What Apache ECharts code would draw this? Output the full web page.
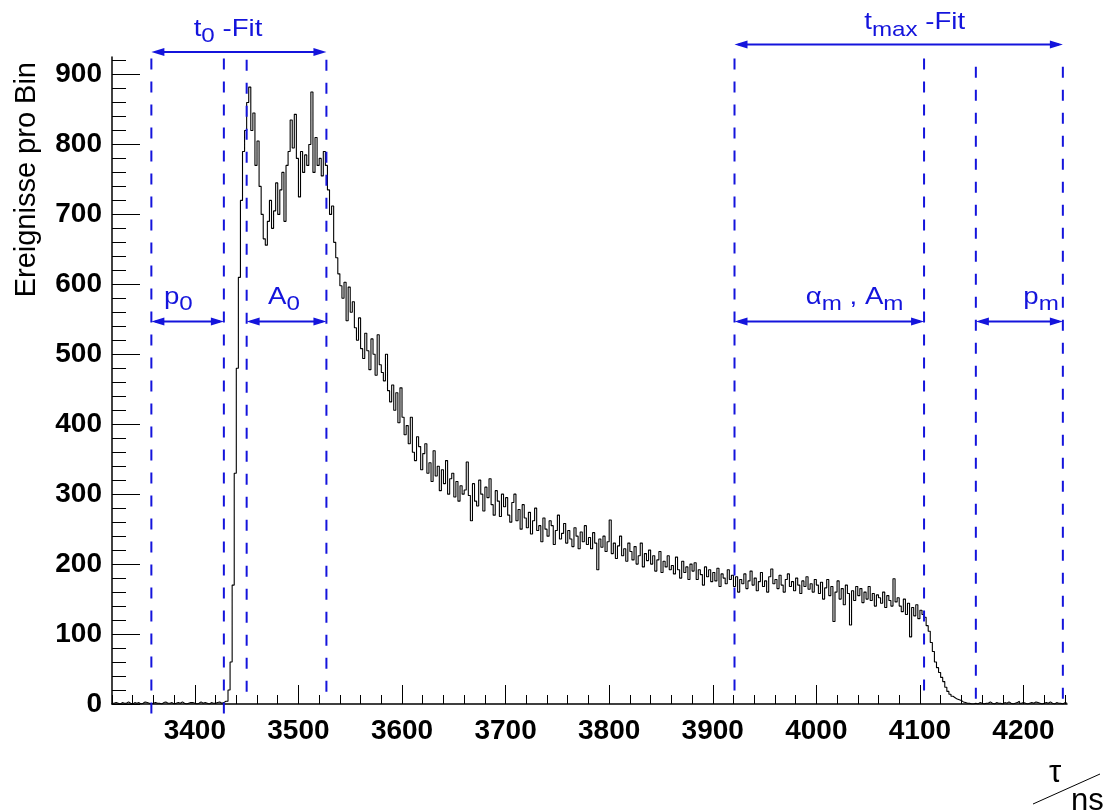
<!DOCTYPE html>
<html>
<head>
<meta charset="utf-8">
<script src="https://cdn.jsdelivr.net/npm/echarts@6/dist/echarts.min.js"></script>
<style>
html,body{margin:0;padding:0;background:#ffffff;}
#chart{width:1108px;height:812px;}
</style>
</head>
<body>
<div id="chart"></div>
<script>
// ---------------- data ----------------
const BIN_START = 3320;   // ns, low edge of first bin
const BIN_WIDTH = 2;      // ns
const X_MIN = 3320, X_MAX = 4242;
const Y_MIN = 0, Y_MAX = 925;

// counts per bin (segments in time order)
const countsBaseline = [ // 3320 - 3428
  1,2,1,0,2,1,1,3,1,0, 2,1,2,0,1,3,2,1,0,1, 2,1,1,0,2,3,1,1,2,0,
  1,2,1,3,1,0,1,2,2,1, 0,1,3,1,2,1,0,2,1,1, 2,3,1,2,4];
const countsRise = [ // 3430 - 3448
  4,20,60,170,330,480,610,720,790,820];
const countsPlateau = [ // 3450 - 3526
  860,882,820,845,770,805,740,700,665,656, 690,720,680,705,745,700,735,760,690,770,
  790,835,795,843,780,725,790,760,785,770, 800,875,760,810,770,780,755,790,770];
const countsDecay = [ // 3528 - 3658
  735,700,712,660,638,615,598,580,603,548, 596,560,575,538,520,552,508,494,530,505,
  478,522,500,470,528,485,474,462,500,448, 432,456,420,445,402,452,410,385,398,372,
  410,360,348,382,368,335,358,372,330,345, 318,362,326,340,305,335,315,348,300,322,
  330,296,318,290,312,300];
const countsSlope = [ // 3660 - 3918
  306,346,298,262,315,290,283,320,300,276, 310,295,322,285,270,305,290,268,300,282,
  295,270,260,288,300,262,278,250,285,266, 252,274,243,262,280,248,255,232,266,250,
  240,262,255,228,248,270,236,244,258,230, 248,236,225,252,240,222,246,232,255,228,
  238,222,245,230,192,236,224,240,218,232, 263,215,230,208,226,240,212,222,204,230,
  218,206,225,200,212,230,196,215,205,220, 200,212,190,206,218,188,204,196,212,192,
  198,186,210,192,180,204,188,196,178,200, 190,202,178,192,185,170,196,182,192,175,
  188,176,194,168,186,180,172,192,178,184];
const countsFlat = [ // 3920 - 4108
  168,182,160,178,172,186,165,176,190,170, 180,162,175,188,168,176,160,182,193,172,
  178,165,184,170,160,178,186,168,175,162, 180,170,158,176,168,182,164,172,160,178,
  170,158,174,150,166,178,155,168,118,160, 176,150,165,142,170,158,113,162,148,168,
  155,165,145,160,150,168,148,158,140,156, 152,144,160,138,155,148,140,179,146,152,
  140,132,150,128,144,96,138,126,142,122, 134,128,124,112,104];
const countsFall = [ // 4110 - 4148
  88,75,60,52,45,38,32,24,18,14, 11,9,7,6,5,3,2,1,1,0];
const countsTail = [ // 4150 - 4240
  0,1,0,2,1,0,1,1,3,1, 0,2,1,1,0,2,1,3,1,0, 1,2,4,1,2,1,0,1,2,1,
  3,2,1,0,1,2,1,3,1,0, 2,1,1,0,2,1];

const xTickLabels = [3400,3500,3600,3700,3800,3900,4000,4100,4200];
const yTickLabels = [0,100,200,300,400,500,600,700,800,900];

// fit-range boundaries (ns)
const fitBounds = [3358, 3428, 3450, 3527, 3921, 4104, 4154, 4238];

// ---------------- build ----------------
const counts = [].concat(countsBaseline, countsRise, countsPlateau, countsDecay,
                         countsSlope, countsFlat, countsFall, countsTail);
const histData = counts.map((v, i) => [BIN_START + i * BIN_WIDTH, v]);
histData.push([BIN_START + counts.length * BIN_WIDTH, counts[counts.length - 1]]);

const xMinor = []; for (let v = 3320; v <= 4240; v += 20) xMinor.push(v);
const yMinor = []; for (let v = 0; v <= 920; v += 20) yMinor.push(v);

const BLUE = '#1414dc';
const FONT = 'Liberation Sans, Arial, Helvetica, sans-serif';

const chart = echarts.init(document.getElementById('chart'), null, {renderer: 'canvas'});
const baseX = {
  type: 'value', min: X_MIN, max: X_MAX, position: 'bottom',
  splitLine: {show: false}
};
const baseY = {
  type: 'value', min: Y_MIN, max: Y_MAX, position: 'left',
  splitLine: {show: false}
};
chart.setOption({
  animation: false,
  backgroundColor: '#ffffff',
  grid: {left: 112, right: 41, top: 57, bottom: 108, containLabel: false},
  xAxis: [
    Object.assign({}, baseX, {
      axisLine: {show: true, onZero: false, lineStyle: {color: '#000', width: 1.5}},
      axisTick: {show: true, inside: true, length: 19, customValues: xTickLabels, lineStyle: {color: '#000', width: 1}},
      axisLabel: {show: true, customValues: xTickLabels, formatter: v => String(v),
        fontSize: 28, fontWeight: 'bold', fontFamily: FONT, color: '#000', margin: 13}
    }),
    Object.assign({}, baseX, {
      axisLine: {show: false, onZero: false},
      axisTick: {show: true, inside: true, length: 9, customValues: xMinor, lineStyle: {color: '#000', width: 1}},
      axisLabel: {show: false}
    })
  ],
  yAxis: [
    Object.assign({}, baseY, {
      axisLine: {show: true, onZero: false, lineStyle: {color: '#000', width: 1.5}},
      axisTick: {show: true, inside: true, length: 28, customValues: yTickLabels, lineStyle: {color: '#000', width: 1}},
      axisLabel: {show: true, customValues: yTickLabels, formatter: v => String(v),
        fontSize: 28, fontWeight: 'bold', fontFamily: FONT, color: '#000', margin: 10}
    }),
    Object.assign({}, baseY, {
      axisLine: {show: false, onZero: false},
      axisTick: {show: true, inside: true, length: 14, customValues: yMinor, lineStyle: {color: '#000', width: 1}},
      axisLabel: {show: false}
    })
  ],
  series: [{
    type: 'line', xAxisIndex: 0, yAxisIndex: 0,
    data: histData, step: 'end', showSymbol: false, symbol: 'none',
    lineStyle: {color: '#000', width: 1.1}, silent: true, clip: true
  }]
});

// ---------------- annotations (placed through the axes' scales) ----------------
const P = (x, y) => chart.convertToPixel({seriesIndex: 0}, [x, y]);
const graphics = [];

// dashed boundaries: [x, top value, bottom value]
const dashSpec = [
  [fitBounds[0], 923, -26], [fitBounds[1], 923, -15], [fitBounds[2], 921, 3], [fitBounds[3], 921, 3],
  [fitBounds[4], 923, 3], [fitBounds[5], 923, 3], [fitBounds[6], 911, -5], [fitBounds[7], 911, -5]
];
dashSpec.forEach(d => {
  const a = P(d[0], d[1]), b = P(d[0], d[2]);
  graphics.push({type: 'line', silent: true, z: 50,
    shape: {x1: a[0], y1: a[1], x2: b[0], y2: b[1]},
    style: {stroke: BLUE, lineWidth: 2, lineDash: [11, 12]}});
});

function arrow(x0, x1, yv) {
  const a = P(x0, yv), b = P(x1, yv);
  const y = a[1], L = 13, H = 4;
  graphics.push({type: 'line', silent: true, z: 51,
    shape: {x1: a[0] + 4, y1: y, x2: b[0] - 4, y2: y},
    style: {stroke: BLUE, lineWidth: 2}});
  graphics.push({type: 'polygon', silent: true, z: 51,
    shape: {points: [[a[0], y], [a[0] + L, y - H], [a[0] + L, y + H]]},
    style: {fill: BLUE}});
  graphics.push({type: 'polygon', silent: true, z: 51,
    shape: {points: [[b[0], y], [b[0] - L, y - H], [b[0] - L, y + H]]},
    style: {fill: BLUE}});
}
arrow(fitBounds[0], fitBounds[3], 932);
arrow(fitBounds[4], fitBounds[7], 943);
arrow(fitBounds[0], fitBounds[1], 547);
arrow(fitBounds[2], fitBounds[3], 547);
arrow(fitBounds[4], fitBounds[5], 547);
arrow(fitBounds[6], fitBounds[7], 547);

const rich = {
  m: {fontSize: 24, fontFamily: FONT, color: BLUE},
  s: {fontSize: 21, fontFamily: FONT, color: BLUE, padding: [15, 0, 0, 0]}
};
function label(text, xv, yv) {
  const p = P(xv, yv);
  graphics.push({type: 'text', silent: true, z: 52, x: p[0], y: p[1], scaleX: 1.15,
    style: {text: text, rich: rich, align: 'center', verticalAlign: 'middle', fill: BLUE,
      fontSize: 24, fontFamily: FONT}});
}
label('{m|t}{s|0}{m| -Fit}', 3432, 965);
label('{m|t}{s|max}{m| -Fit}', 4095, 974);
label('{m|p}{s|0}', 3384, 582);
label('{m|A}{s|0}', 3486, 582);
label('{m|α}{s|m}{m| , A}{s|m}', 4037, 582);
label('{m|p}{s|m}', 4217, 582);

// axis titles
graphics.push({type: 'text', silent: true, x: 27, y: 62, rotation: Math.PI / 2,
  style: {text: 'Ereignisse pro Bin', align: 'right', verticalAlign: 'middle',
    fontSize: 29, fontFamily: FONT, fill: '#000'}});
graphics.push({type: 'text', silent: true, x: 1055, y: 773,
  style: {text: 'τ', align: 'center', verticalAlign: 'middle', fontSize: 31, fontFamily: FONT, fill: '#000'}});
graphics.push({type: 'text', silent: true, x: 1071, y: 801,
  style: {text: 'ns', align: 'left', verticalAlign: 'middle', fontSize: 31, fontFamily: FONT, fill: '#000'}});
graphics.push({type: 'line', silent: true,
  shape: {x1: 1033, y1: 804, x2: 1100, y2: 774}, style: {stroke: '#000', lineWidth: 1}});

chart.setOption({graphic: graphics});
</script>
</body>
</html>
